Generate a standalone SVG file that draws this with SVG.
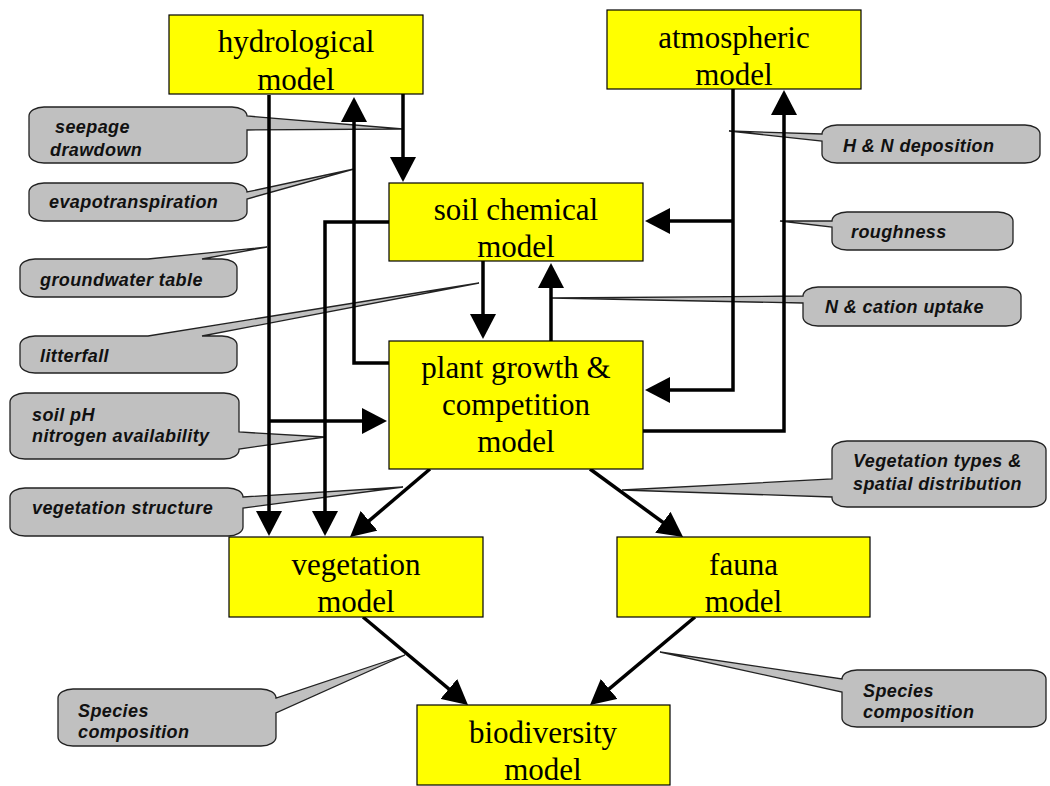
<svg xmlns="http://www.w3.org/2000/svg" width="1050" height="786" viewBox="0 0 1050 786">
<defs>
<style>
.box{fill:#ffff00;stroke:#000;stroke-width:1.2}
.bt{font-family:"Liberation Serif","Times New Roman",serif;font-size:31px;fill:#000;text-anchor:middle}
.co{fill:#c0c0c0;stroke:#222;stroke-width:1.3}
.ct{font-family:"Liberation Sans",Arial,sans-serif;font-size:18px;font-weight:bold;font-style:italic;letter-spacing:0.4px;fill:#111}
.ln{fill:none;stroke:#000;stroke-width:3.5;marker-end:url(#ah)}
</style>
<marker id="ah" viewBox="0 0 25 26" refX="19" refY="13" markerWidth="25" markerHeight="26" markerUnits="userSpaceOnUse" orient="auto">
<path d="M0,0 L25,13 L0,26 Z" fill="#000"/>
</marker>
</defs>

<g id="callouts">
<path class="co" d="M44,107 H232 A15,9 0 0 1 247,116 L403,129 L247,130 V154 A15,9 0 0 1 232,163 H44 A15,9 0 0 1 29,154 V116 A15,9 0 0 1 44,107 Z"/>
<text class="ct" x="55" y="133">seepage</text>
<text class="ct" x="50" y="156">drawdown</text>

<path class="co" d="M44,183 H232 A15,9 0 0 1 247,192 L354,169 L247,199 V212 A15,9 0 0 1 232,221 H44 A15,9 0 0 1 29,212 V192 A15,9 0 0 1 44,183 Z"/>
<text class="ct" x="49" y="208">evapotranspiration</text>

<path class="co" d="M35,259 H148 L267,247 L202,259 H222 A15,9 0 0 1 237,268 V288 A15,9 0 0 1 222,297 H35 A15,9 0 0 1 20,288 V268 A15,9 0 0 1 35,259 Z"/>
<text class="ct" x="40" y="286">groundwater table</text>

<path class="co" d="M35,336 H148 L479,283 L202,336 H222 A15,9 0 0 1 237,345 V364 A15,9 0 0 1 222,373 H35 A15,9 0 0 1 20,364 V345 A15,9 0 0 1 35,336 Z"/>
<text class="ct" x="40" y="362">litterfall</text>

<path class="co" d="M25,393 H224 A15,9 0 0 1 239,402 V432 L325,437 L239,449 V450 A15,9 0 0 1 224,459 H25 A15,9 0 0 1 10,450 V402 A15,9 0 0 1 25,393 Z"/>
<text class="ct" x="32" y="421">soil pH</text>
<text class="ct" x="32" y="442">nitrogen availability</text>

<path class="co" d="M25,488 H228 A15,9 0 0 1 243,497 L403,487 L243,508 V527 A15,9 0 0 1 228,536 H25 A15,9 0 0 1 10,527 V497 A15,9 0 0 1 25,488 Z"/>
<text class="ct" x="32" y="514">vegetation structure</text>

<path class="co" d="M837,125 H1025 A15,9 0 0 1 1040,134 V154 A15,9 0 0 1 1025,163 H837 A15,9 0 0 1 822,154 V141 L729,131 L822,134 A15,9 0 0 1 837,125 Z"/>
<text class="ct" x="843" y="152">H &amp; N deposition</text>

<path class="co" d="M847,212 H998 A15,9 0 0 1 1013,221 V241 A15,9 0 0 1 998,250 H847 A15,9 0 0 1 832,241 V227 L780,221 L832,221 A15,9 0 0 1 847,212 Z"/>
<text class="ct" x="851" y="238">roughness</text>

<path class="co" d="M818,287 H1006 A15,9 0 0 1 1021,296 V317 A15,9 0 0 1 1006,326 H818 A15,9 0 0 1 803,317 V303 L551,298 L803,296 A15,9 0 0 1 818,287 Z"/>
<text class="ct" x="825" y="313">N &amp; cation uptake</text>

<path class="co" d="M847,441 H1031 A15,9 0 0 1 1046,450 V498 A15,9 0 0 1 1031,507 H847 A15,9 0 0 1 832,498 V497 L622,490 L832,479 V450 A15,9 0 0 1 847,441 Z"/>
<text class="ct" x="853" y="467">Vegetation types &amp;</text>
<text class="ct" x="853" y="490">spatial distribution</text>

<path class="co" d="M73,689 H261 A15,9 0 0 1 276,698 L405,655 L276,713 V737 A15,9 0 0 1 261,746 H73 A15,9 0 0 1 58,737 V698 A15,9 0 0 1 73,689 Z"/>
<text class="ct" x="78" y="717">Species</text>
<text class="ct" x="78" y="738">composition</text>

<path class="co" d="M857,670 H1031 A15,9 0 0 1 1046,679 V718 A15,9 0 0 1 1031,727 H857 A15,9 0 0 1 842,718 V692 L660,652 L842,679 A15,9 0 0 1 857,670 Z"/>
<text class="ct" x="863" y="697">Species</text>
<text class="ct" x="863" y="718">composition</text>
</g>

<g id="connectors">
<path class="ln" d="M403,94 V176"/>
<path class="ln" d="M389,363 H354 V103"/>
<path class="ln" d="M269,95 V530"/>
<path class="ln" d="M269,421 H381"/>
<path class="ln" d="M389,222 H325 V530"/>
<path class="ln" d="M483,261 V333"/>
<path class="ln" d="M551,341 V269"/>
<path class="ln" d="M733,221 H651"/>
<path class="ln" d="M733,89 V390 H651"/>
<path class="ln" d="M643,431 H784 V96"/>
<path class="ln" d="M430,469 L354.6,533.1"/>
<path class="ln" d="M590,469 L678.2,533.5"/>
<path class="ln" d="M363,617 L463.4,701.1"/>
<path class="ln" d="M695,617 L594.6,701.1"/>
</g>

<g id="hydrological">
<rect class="box" x="169" y="15" width="254" height="79"/>
<text class="bt" x="296" y="52">hydrological</text>
<text class="bt" x="296" y="90">model</text>
</g>
<g id="atmospheric">
<rect class="box" x="607" y="10" width="254" height="79"/>
<text class="bt" x="734" y="48">atmospheric</text>
<text class="bt" x="734" y="85">model</text>
</g>
<g id="soil-chemical">
<rect class="box" x="389" y="183" width="254" height="78"/>
<text class="bt" x="516" y="220">soil chemical</text>
<text class="bt" x="516" y="257">model</text>
</g>
<g id="plant-growth">
<rect class="box" x="389" y="341" width="254" height="128"/>
<text class="bt" x="516" y="378">plant growth &amp;</text>
<text class="bt" x="516" y="415">competition</text>
<text class="bt" x="516" y="452">model</text>
</g>
<g id="vegetation">
<rect class="box" x="229" y="537" width="254" height="80"/>
<text class="bt" x="356" y="575">vegetation</text>
<text class="bt" x="356" y="612">model</text>
</g>
<g id="fauna">
<rect class="box" x="617" y="537" width="253" height="80"/>
<text class="bt" x="743.5" y="575">fauna</text>
<text class="bt" x="743.5" y="612">model</text>
</g>
<g id="biodiversity">
<rect class="box" x="417" y="705" width="253" height="80"/>
<text class="bt" x="543" y="743">biodiversity</text>
<text class="bt" x="543" y="780">model</text>
</g>
</svg>
